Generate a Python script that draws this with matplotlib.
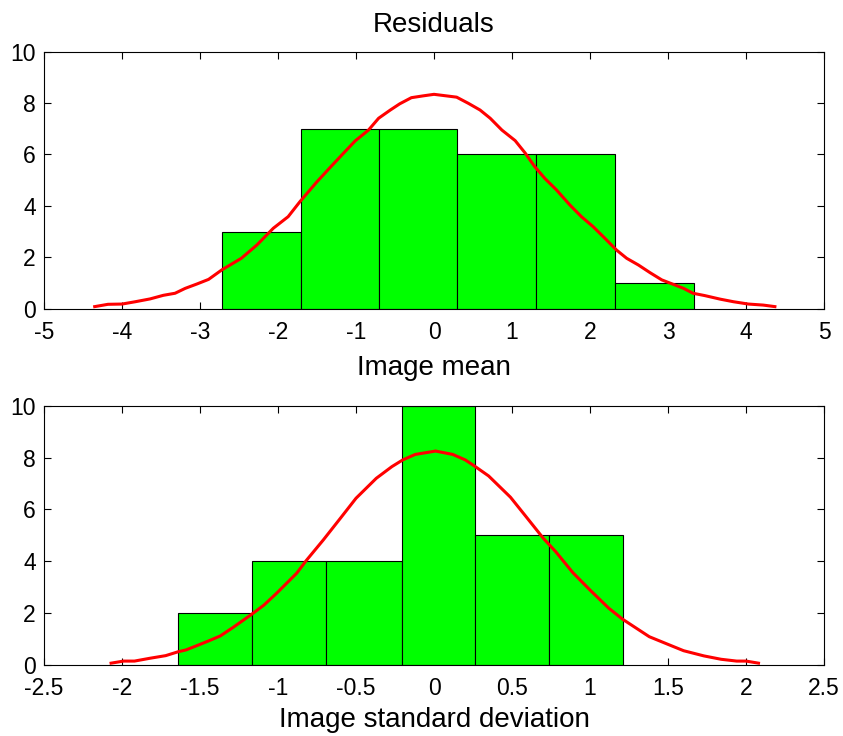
import numpy as np
import matplotlib
matplotlib.use("Agg")
import matplotlib.pyplot as plt

plt.rcParams['font.family'] = ['Liberation Sans', 'DejaVu Sans']
plt.rcParams['axes.unicode_minus'] = False

# ---------- DATA ----------
# top panel: image mean residuals
mean_edges = [-2.72, -1.71, -0.70, 0.30, 1.31, 2.32, 3.33]
mean_counts = [3, 7, 7, 6, 6, 1]
mean_fit_x = [-4.35, -4.18, -4.00, -3.83, -3.64, -3.47, -3.32, -3.19, -3.04, -2.89,
              -2.72, -2.47, -2.27, -2.06, -1.87, -1.72, -1.50, -1.33, -1.16, -1.01,
              -0.84, -0.71, -0.56, -0.44, -0.29, -0.14, 0.0, 0.29, 0.44, 0.59,
              0.72, 0.87, 1.04, 1.17, 1.29, 1.42, 1.57, 1.74, 1.89, 2.04,
              2.19, 2.34, 2.47, 2.62, 2.77, 2.92, 3.09, 3.20, 3.32, 3.47,
              3.67, 3.84, 4.03, 4.22, 4.37]
mean_fit_y = [0.08, 0.17, 0.18, 0.27, 0.38, 0.52, 0.60, 0.79, 0.96, 1.14,
              1.51, 1.96, 2.48, 3.13, 3.58, 4.16, 4.94, 5.50, 6.05, 6.53,
              6.95, 7.41, 7.73, 7.97, 8.21, 8.28, 8.34, 8.23, 7.99, 7.73,
              7.41, 6.95, 6.54, 6.05, 5.53, 5.07, 4.62, 4.04, 3.58, 3.19,
              2.74, 2.28, 1.96, 1.70, 1.40, 1.12, 0.92, 0.79, 0.60, 0.51,
              0.37, 0.27, 0.18, 0.14, 0.08]

# bottom panel: image standard deviation residuals
std_edges = [-1.64, -1.165, -0.694, -0.207, 0.263, 0.739, 1.21]
std_counts = [2, 4, 4, 10, 5, 5]
std_fit_x = [-2.07, -1.99, -1.92, -1.82, -1.72, -1.64, -1.59, -1.51, -1.44, -1.37,
             -1.29, -1.17, -1.09, -1.01, -0.88, -0.82, -0.71, -0.60, -0.50, -0.37,
             -0.27, -0.20, -0.12, 0.01, 0.12, 0.20, 0.26, 0.35, 0.49, 0.59,
             0.70, 0.78, 0.89, 1.00, 1.12, 1.21, 1.38, 1.51, 1.60, 1.73,
             1.84, 1.94, 2.00, 2.08]
std_fit_y = [0.07, 0.15, 0.15, 0.26, 0.36, 0.51, 0.58, 0.77, 0.94, 1.12,
             1.44, 1.95, 2.31, 2.76, 3.54, 4.02, 4.82, 5.66, 6.43, 7.20,
             7.65, 7.91, 8.12, 8.25, 8.12, 7.91, 7.67, 7.29, 6.47, 5.72,
             4.89, 4.37, 3.56, 2.89, 2.19, 1.76, 1.09, 0.77, 0.55, 0.35,
             0.22, 0.15, 0.15, 0.07]

mean_ticks = [-5, -4, -3, -2, -1, 0, 1, 2, 3, 4, 5]
std_ticks = [-2.5, -2, -1.5, -1, -0.5, 0, 0.5, 1, 1.5, 2, 2.5]
std_ticklabels = ["-2.5", "-2", "-1.5", "-1", "-0.5", "0", "0.5", "1", "1.5", "2", "2.5"]
y_ticks = [0, 2, 4, 6, 8, 10]

# ---------- FIGURE ----------
fig = plt.figure(figsize=(8.43, 7.36), dpi=100)
ax1 = fig.add_axes([0.0522, 0.5806, 0.9253, 0.3492])
ax2 = fig.add_axes([0.0522, 0.0965, 0.9253, 0.3523])


def hist_panel(ax, edges, counts, fx, fy, xlim, xticks, xlabel, lpad):
    edges = np.array(edges)
    ax.bar(edges[:-1], counts, width=np.diff(edges), align="edge",
           color="#00ff00", edgecolor="black", linewidth=0.8, zorder=2)
    ax.plot(fx, fy, color="red", linewidth=2.2, zorder=3)
    ax.set_xlim(*xlim)
    ax.set_ylim(0, 10)
    ax.set_xticks(xticks)
    ax.set_yticks(y_ticks)
    ax.tick_params(direction="in", length=5, width=0.8, top=True, right=True,
                   labelsize=16.5)
    ax.tick_params(axis="x", pad=9)
    ax.tick_params(axis="y", pad=6)
    ax.set_xlabel(xlabel, fontsize=20, labelpad=lpad)
    for s in ax.spines.values():
        s.set_linewidth(0.8)


hist_panel(ax1, mean_edges, mean_counts, mean_fit_x, mean_fit_y,
           (-5, 5), mean_ticks, "Image mean", 8)
ax1.set_title("Residuals", fontsize=20, pad=14)

hist_panel(ax2, std_edges, std_counts, std_fit_x, std_fit_y,
           (-2.5, 2.5), std_ticks, "Image standard deviation", 5)
ax2.set_xticklabels(std_ticklabels)

fig.savefig("out.png", dpi=100)
